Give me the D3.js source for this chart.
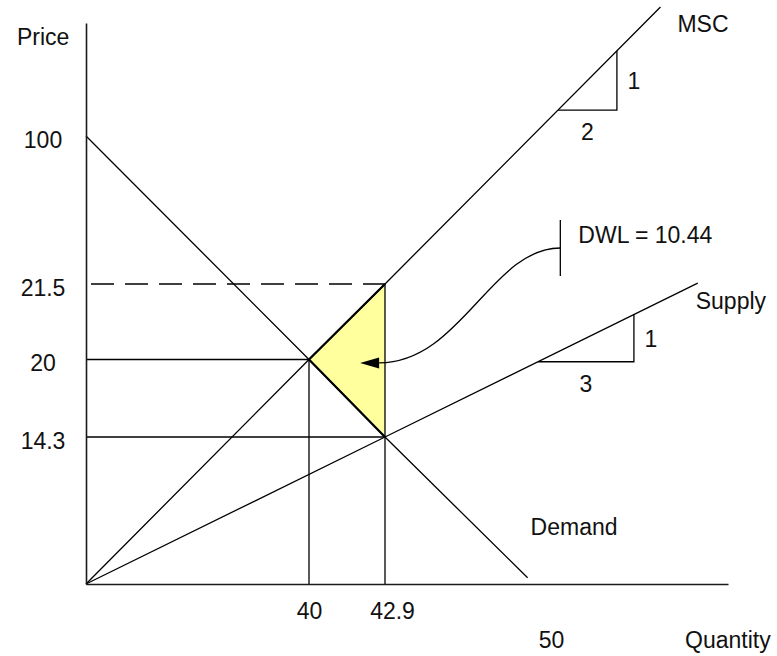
<!DOCTYPE html>
<html>
<head>
<meta charset="utf-8">
<script src="https://cdn.jsdelivr.net/npm/d3@7"></script>
<style>
  body { margin: 0; background: #fff; }
  text { font-family: "Liberation Sans", Arial, sans-serif; font-size: 23px; fill: #111; }
</style>
</head>
<body>
<div id="chart"></div>
<script>
// tick labels
const priceTicks = [100, 21.5, 20, 14.3];
const quantityTicks = [40, 42.9, 50];

// curves as [quantity, price]
const demand = [[0, 100], [40, 20], [42.9, 14.3], [49, 0.6]];
const msc = [[0, 0], [40, 20], [42.9, 21.5], [54.7, 168.5]];
const supply = [[0, 0], [42.9, 14.3], [56.3, 22.0]];

// market vs efficient outcome
const marketQ = 42.9, marketP = 14.3, mscAtMarket = 21.5;
const efficientQ = 40, efficientP = 20;
const dwl = 10.44;

// slope triangles (quantity span along the curve)
const mscSlope = { q: [50.3, 52.83], rise: "1", run: "2" };
const supplySlope = { q: [49.44, 53.56], rise: "1", run: "3" };

// DWL callout
const dwlCallout = { q: 50.4, p: 40.6, pRange: [25.7, 55.4], tip: [41.95, 19.75] };

const width = 777, height = 656;

// the drawing is not to scale, so the scales are piecewise
const x = d3.scaleLinear()
  .domain([0, 40, 42.9, 50, 57.6])
  .range([86, 309, 385, 551, 728]);
const y = d3.scaleLinear()
  .domain([0, 14.3, 20, 21.5, 100, 160])
  .range([584, 437, 359.5, 284, 136, 23]);

const svg = d3.select("#chart").append("svg")
  .attr("width", width)
  .attr("height", height);

const line = d3.line().x(d => x(d[0])).y(d => y(d[1]));

function pixelAt(curve, q) {
  const px = x(q);
  const pts = curve.map(d => [x(d[0]), y(d[1])]);
  for (let i = 1; i < pts.length; i++) {
    if (px <= pts[i][0] || i === pts.length - 1) {
      const [x0, y0] = pts[i - 1], [x1, y1] = pts[i];
      return [px, y0 + (y1 - y0) * (px - x0) / (x1 - x0)];
    }
  }
}

// dead weight loss triangle
const tri = [[efficientQ, efficientP], [marketQ, mscAtMarket], [marketQ, marketP]];
svg.append("path")
  .attr("d", line(tri) + "Z")
  .attr("fill", "#ffff9e")
  .attr("stroke", "none");

// guide lines
const guides = [
  [[0, efficientP], [efficientQ, efficientP]],
  [[0, marketP], [marketQ, marketP]],
  [[efficientQ, 0], [efficientQ, efficientP]],
  [[marketQ, 0], [marketQ, mscAtMarket]]
];
svg.selectAll(".guide")
  .data(guides)
  .enter().append("path")
  .attr("class", "guide")
  .attr("d", line)
  .attr("fill", "none")
  .attr("stroke", "#000")
  .attr("stroke-width", 1.3);

svg.append("path")
  .attr("d", line([[0, mscAtMarket], [marketQ, mscAtMarket]]))
  .attr("fill", "none")
  .attr("stroke", "#000")
  .attr("stroke-width", 1.3)
  .attr("stroke-dasharray", "23,11")
  .attr("stroke-dashoffset", 29);

// curves
const curves = [
  { name: "Demand", pts: demand, dx: 3, dy: -43 },
  { name: "MSC", pts: msc, dx: 17, dy: 25 },
  { name: "Supply", pts: supply, dx: -2, dy: 26 }
];
svg.selectAll(".curve")
  .data(curves)
  .enter().append("path")
  .attr("class", "curve")
  .attr("d", d => line(d.pts))
  .attr("fill", "none")
  .attr("stroke", "#000")
  .attr("stroke-width", 1.3);

svg.selectAll(".curve-label")
  .data(curves)
  .enter().append("text")
  .attr("class", "curve-label")
  .attr("x", d => x(d.pts[d.pts.length - 1][0]) + d.dx)
  .attr("y", d => y(d.pts[d.pts.length - 1][1]) + d.dy)
  .text(d => d.name);

// heavier left edges of the triangle
svg.append("path")
  .attr("d", line([[marketQ, mscAtMarket], [efficientQ, efficientP], [marketQ, marketP]]))
  .attr("fill", "none")
  .attr("stroke", "#000")
  .attr("stroke-width", 2.2);

// slope triangles
[[msc, mscSlope], [supply, supplySlope]].forEach(([curve, s]) => {
  const a = pixelAt(curve, s.q[0]);
  const b = pixelAt(curve, s.q[1]);
  svg.append("path")
    .attr("d", `M${a[0]},${a[1]}H${b[0]}V${b[1]}`)
    .attr("fill", "none")
    .attr("stroke", "#000")
    .attr("stroke-width", 1.3);
  svg.append("text")
    .attr("x", b[0] + 17)
    .attr("y", (a[1] + b[1]) / 2 + 9)
    .attr("text-anchor", "middle")
    .text(s.rise);
  svg.append("text")
    .attr("x", (a[0] + b[0]) / 2)
    .attr("y", a[1] + 30)
    .attr("text-anchor", "middle")
    .text(s.run);
});

// DWL callout
const S = [x(dwlCallout.q), y(dwlCallout.p)];
const T = [x(dwlCallout.tip[0]), y(dwlCallout.tip[1])];
const B = [T[0] + 19, T[1]];
const span = S[0] - B[0];
const cp = d3.path();
cp.moveTo(S[0], S[1]);
cp.bezierCurveTo(S[0] - 0.38 * span, S[1], B[0] + 0.45 * span, B[1], B[0], B[1]);
svg.append("path")
  .attr("d", cp.toString())
  .attr("fill", "none")
  .attr("stroke", "#000")
  .attr("stroke-width", 1.3);
svg.append("path")
  .attr("d", `M${T[0]},${T[1]}L${B[0]},${B[1] - 5.5}L${B[0]},${B[1] + 5.5}Z`)
  .attr("fill", "#000");
svg.append("path")
  .attr("d", line([[dwlCallout.q, dwlCallout.pRange[0]], [dwlCallout.q, dwlCallout.pRange[1]]]))
  .attr("stroke", "#000")
  .attr("stroke-width", 1.3);
svg.append("text")
  .attr("x", S[0] + 18)
  .attr("y", S[1] - 5)
  .text(`DWL = ${dwl}`);

// axes
const xAxis = svg.append("g")
  .attr("transform", `translate(0,${y(0)})`)
  .call(d3.axisBottom(x).tickValues(quantityTicks).tickSize(0).tickPadding(19).tickFormat(d => String(d)));
const yAxis = svg.append("g")
  .attr("transform", `translate(${x(0)},0)`)
  .call(d3.axisLeft(y).tickValues(priceTicks).tickSize(0).tickFormat(d => String(d)));

[xAxis, yAxis].forEach(g => {
  g.attr("color", "#1a1a1a");
  g.select(".domain").attr("stroke-width", 1.6);
});

xAxis.selectAll(".tick text")
  .attr("dx", d => d === 42.9 ? 7 : 0)
  .attr("y", d => d === 50 ? 48 : 19);

yAxis.selectAll(".tick text")
  .attr("text-anchor", "middle")
  .attr("x", -43)
  .attr("dy", "0.48em");

svg.append("text")
  .attr("x", x(0) - 69)
  .attr("y", y(160) + 22)
  .text("Price");
svg.append("text")
  .attr("x", 685)
  .attr("y", y(0) + 64)
  .text("Quantity");
</script>
</body>
</html>
